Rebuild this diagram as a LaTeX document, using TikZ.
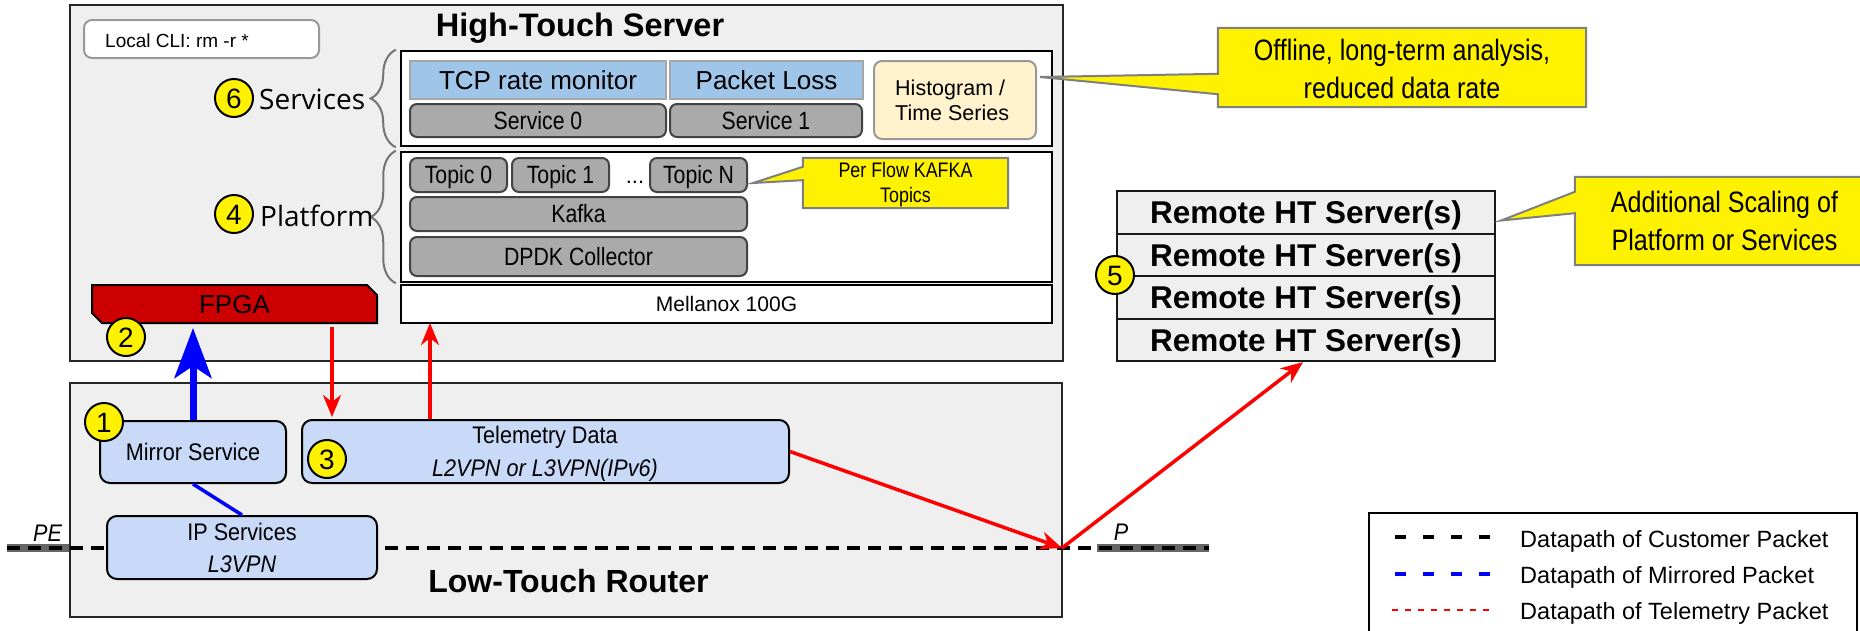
\documentclass[tikz,border=0pt]{standalone}
\usepackage{fontspec}
\setmainfont{Liberation Sans}
\newfontfamily\narr[FakeStretch=0.85]{Liberation Sans}
\newfontfamily\semin[FakeStretch=0.9]{Liberation Sans}
\newfontfamily\opsans{Open Sans}
\usetikzlibrary{arrows.meta,decorations.pathreplacing,shapes.misc,calc}

\definecolor{panel}{HTML}{EFEFEF}
\definecolor{svcblue}{HTML}{9FC5E8}
\definecolor{modgray}{HTML}{AAAAAA}
\definecolor{modedge}{HTML}{434343}
\definecolor{cream}{HTML}{FFF2CC}
\definecolor{lanblue}{HTML}{C9DAF8}
\definecolor{fpgared}{HTML}{CC0000}
\definecolor{callgray}{HTML}{7F7F7F}
\definecolor{telred}{HTML}{FF0000}
\definecolor{mirblue}{HTML}{0000FF}

\newcommand\fsz[1]{\fontsize{#1pt}{#1pt}\selectfont}

\tikzset{
  % place a node so that its border runs along the rectangle (x1,y1)-(x2,y2)
  spot/.style n args={4}{at={({(#1+#3)/2},{(#2+#4)/2})}, anchor=center,
    minimum width={#3-#1}, minimum height={#4-#2}},
  frame/.style={draw=black!85, line width=2.2pt, fill=panel, inner sep=0pt},
  layer/.style={draw=black, line width=2.5pt, fill=white, inner sep=0pt},
  cli/.style={draw=black!40, line width=2pt, fill=white, rounded corners=8pt, inner sep=0pt},
  svc/.style={draw=black!35, line width=2pt, fill=svcblue, inner sep=0pt,
    font=\fsz{26}, text height=18.6pt, text depth=0pt},
  mod/.style={draw=modedge, line width=2pt, fill=modgray, rounded corners=7pt, inner sep=0pt,
    font=\narr\fsz{25}, text height=17.9pt, text depth=0pt},
  hist/.style={draw=black!40, line width=2pt, fill=cream, rounded corners=8pt, inner sep=0pt},
  lan/.style={draw=black, line width=2pt, fill=lanblue, rounded corners=10pt, inner sep=0pt},
  remote/.style={draw=black!90, line width=2.2pt, fill=panel, inner sep=0pt,
    font=\bfseries\fsz{31.5}, text height=22.5pt, text depth=0pt},
  fpgabox/.style={draw=black, line width=2pt, fill=fpgared, inner sep=0pt,
    chamfered rectangle, chamfered rectangle corners={north east,south west},
    chamfered rectangle xsep=5pt, chamfered rectangle ysep=5pt,
    font=\fsz{26}, text height=18.6pt, text depth=0pt},
  num/.style={circle, draw=black, line width=2pt, fill=yellow, minimum size=38pt,
    inner sep=0pt, font=\fsz{28}, text height=20pt, text depth=0pt},
  txt/.style={inner sep=0pt, anchor=base},
  bubble/.style={draw=callgray, line width=2pt, fill=yellow, line join=miter},
  bracestyle/.style={draw=black!55, line width=2pt, decorate,
    decoration={brace, amplitude=25pt}},
  telarrow/.style={draw=telred, line width=3.5pt,
    -{Stealth[length=22pt,width=18pt,inset=7pt]}},
  mirarrow/.style={draw=mirblue, line width=7pt,
    -{Stealth[length=50pt,width=37pt,inset=12pt]}},
  custpath/.style={draw=black, line width=4pt, dash pattern=on 13pt off 8pt},
  wirepath/.style={draw=black!60, line width=8pt},
  legbox/.style={draw=black, line width=2pt, fill=white, inner sep=0pt},
}

\begin{document}
\begin{tikzpicture}[x=1pt, y=-1pt]
\fill[white] (0,0) rectangle (1860,630);
\useasboundingbox (0,0) rectangle (1860,630);

% ---------------- High-Touch Server ----------------
\node[frame, spot={70}{5}{1063}{361}] (hts) {};
\node[txt, font=\bfseries\fsz{32.5}] (htstitle) at (580,36) {High-Touch Server};
\node[cli, spot={84}{20}{319}{58}] (cli) {};
\node[txt, anchor=base west, font=\fsz{19}] (clitext) at (105,47) {Local CLI: rm -r *};

% services layer
\node[layer, spot={401}{51}{1052}{146}] (svcs) {};
\node[svc, spot={410}{61}{666}{99}] (tcp) {TCP rate monitor};
\node[svc, spot={670}{61}{863}{99}] (loss) {Packet Loss};
\node[mod, spot={410}{104}{666}{137}] (svc0) {Service 0};
\node[mod, spot={670}{104}{862}{137}] (svc1) {Service 1};
\node[hist, spot={874}{61}{1036}{139}] (hist) {};
\node[txt, anchor=base west, font=\fsz{21.5}] (hist1) at (895,95) {Histogram /};
\node[txt, anchor=base west, font=\fsz{21.5}] (hist2) at (895,120) {Time Series};

% platform layer
\node[layer, spot={401}{152}{1052}{282}] (plat) {};
\node[mod, spot={410}{158}{507}{192}] (top0) {Topic 0};
\node[mod, spot={512}{158}{609}{192}] (top1) {Topic 1};
\node[txt, font=\fsz{22}] (dots) at (635,183) {...};
\node[mod, spot={650}{158}{747}{192}] (topn) {Topic N};
\node[mod, spot={410}{197}{747}{231}] (kafka) {Kafka};
\node[mod, spot={410}{237}{747}{276}] (dpdk) {DPDK Collector};

% per-flow topics callout
\node[inner sep=0pt, spot={803}{158}{1008}{208}] (pfbox) {};
\draw[bubble] (pfbox.north west) -- (pfbox.north east) -- (pfbox.south east)
  -- (pfbox.south west) -- ($(pfbox.south west)+(0,-28)$)
  -- ([xshift=5pt,yshift=-8pt]topn.east) -- ($(pfbox.north west)+(0,9)$) -- cycle;
\node[txt, font=\narr\fsz{21}] (pf1) at (905.5,177) {Per Flow KAFKA};
\node[txt, font=\narr\fsz{21}] (pf2) at (905.5,202) {Topics};

% NIC and FPGA
\node[layer, spot={401}{285}{1052}{323}, font=\fsz{21}, text height=15pt, text depth=0pt] (mlx) {Mellanox 100G};
\node[fpgabox, spot={92}{285}{377}{323}] (fpga) {FPGA};

% layer labels
\draw[bracestyle] ([xshift=-4pt]svcs.south west) -- ([xshift=-4pt]svcs.north west);
\draw[bracestyle] ([xshift=-4pt]plat.south west) -- ([xshift=-4pt]plat.north west);
\node[num] (n6) at (234,98) {6};
\node[txt, anchor=base west, font=\opsans\fsz{28}] (svclabel) at (259,109) {Services};
\node[num] (n4) at (234,214) {4};
\node[txt, anchor=base west, font=\opsans\fsz{28}] (platlabel) at (260,226) {Platform};
\node[num] (n2) at (126,337) {2};

% offline analysis callout
\node[inner sep=0pt, spot={1218}{28}{1586}{107}] (offbox) {};
\draw[bubble] (offbox.north west) -- (offbox.north east) -- (offbox.south east)
  -- (offbox.south west) -- ($(offbox.south west)+(0,-13)$)
  -- ([xshift=3pt,yshift=23pt]hist.east) -- ($(offbox.north west)+(0,46)$) -- cycle;
\node[txt, font=\narr\fsz{29.5}] (off1) at (1402,60) {Offline, long-term analysis,};
\node[txt, font=\narr\fsz{29.5}] (off2) at (1402,98) {reduced data rate};

% ---------------- Remote servers ----------------
\node[remote, spot={1117}{191}{1495}{234}] (r1) {Remote HT Server(s)};
\node[remote, spot={1117}{234}{1495}{276}] (r2) {Remote HT Server(s)};
\node[remote, spot={1117}{276}{1495}{319}] (r3) {Remote HT Server(s)};
\node[remote, spot={1117}{319}{1495}{361}] (r4) {Remote HT Server(s)};
\node[num] (n5) at (1115,275) {5};

\node[inner sep=0pt, spot={1575}{177}{1864}{265}] (addbox) {};
\draw[bubble] (addbox.north west) -- (addbox.north east) -- (addbox.south east)
  -- (addbox.south west) -- ($(addbox.south west)+(0,-52)$)
  -- ([xshift=5pt,yshift=-8pt]r1.east) -- ($(addbox.north west)+(0,15)$) -- cycle;
\node[txt, font=\narr\fsz{29.5}] (add1) at (1724.5,212) {Additional Scaling of};
\node[txt, font=\narr\fsz{29.5}] (add2) at (1724.5,250) {Platform or Services};

% ---------------- Low-Touch Router ----------------
\node[frame, spot={70}{383}{1062}{617}] (ltr) {};
\node[txt, font=\bfseries\fsz{32}] (ltrtitle) at (568.5,592) {Low-Touch Router};

% customer datapath through the router
\coordinate (pein) at (7,548);
\coordinate (pnt) at (1062,548);
\coordinate (pgray) at (1097,548);
\coordinate (pout) at (1209,548);
\draw[wirepath] (pein) -- (ltr.west |- pein);
\draw[wirepath] (pgray) -- (pout);
\draw[custpath] (pein) -- (pnt) -- (pout);
\node[txt, font=\semin\itshape\fsz{24}] (pelabel) at (47.5,541) {PE};
\node[txt, font=\semin\itshape\fsz{24}] (plabel) at (1121,540) {P};

\node[lan, spot={100}{421}{286}{483}, font=\semin\fsz{24}, text height=17.2pt, text depth=0pt] (mirror) {Mirror Service};
\node[lan, spot={302}{420}{789}{483}] (tel) {};
\node[txt, font=\semin\fsz{24}] (tel1) at (545,443) {Telemetry Data};
\node[txt, font=\semin\itshape\fsz{24}] (tel2) at (545,476) {L2VPN or L3VPN(IPv6)};
\node[lan, spot={107}{516}{377}{579}] (ipsvc) {};
\node[txt, font=\semin\fsz{24}] (ip1) at (242,540) {IP Services};
\node[txt, font=\semin\itshape\fsz{24}] (ip2) at (242,572) {L3VPN};

\draw[draw=mirblue, line width=3.5pt] (mirror.south) -- (ipsvc.north);
\node[num] (n1) at (104,422) {1};
\node[num] (n3) at (327,459) {3};

% ---------------- packet flows ----------------
\coordinate (fdrop) at (332,323);
\coordinate (mlxup) at (430,323);
\draw[mirarrow, shorten >=4pt] (mirror.north) -- (mirror.north |- fpga.south);
\draw[telarrow, shorten <=4pt, shorten >=2pt] (fdrop) -- (fdrop |- tel.north);
\draw[telarrow] (mlxup |- tel.north) -- (mlxup);
\draw[telarrow] (tel.east) -- (pnt);
\draw[telarrow] (pnt) -- ([xshift=-3pt]r4.south);

% ---------------- legend ----------------
\node[legbox, spot={1369}{513}{1857}{645}] (leg) {};
\coordinate (la1) at (1395,537); \coordinate (lb1) at (1496,537);
\coordinate (la2) at (1395,574); \coordinate (lb2) at (1496,574);
\coordinate (la3) at (1392,610); \coordinate (lb3) at (1496,610);
\draw[draw=black, line width=4pt, dash pattern=on 11pt off 17pt] (la1) -- (lb1);
\draw[draw=mirblue, line width=4pt, dash pattern=on 11pt off 17pt] (la2) -- (lb2);
\draw[draw=telred, line width=2pt, dash pattern=on 6pt off 7pt] (la3) -- (lb3);
\node[txt, anchor=base west, font=\fsz{23.5}] (leg1) at (1520,547) {Datapath of Customer Packet};
\node[txt, anchor=base west, font=\fsz{23.5}] (leg2) at (1520,583) {Datapath of Mirrored Packet};
\node[txt, anchor=base west, font=\fsz{23.5}] (leg3) at (1520,619) {Datapath of Telemetry Packet};
\end{tikzpicture}
\end{document}
